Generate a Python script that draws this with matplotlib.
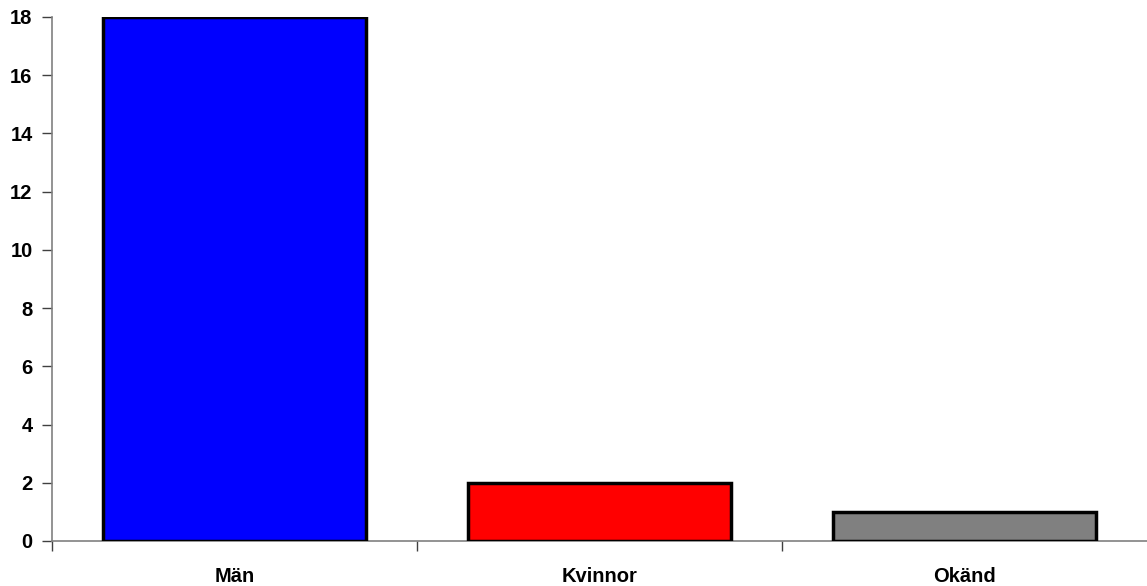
import matplotlib
matplotlib.use("Agg")
import matplotlib.pyplot as plt
from matplotlib.ticker import FixedLocator

categories = ["Män", "Kvinnor", "Okänd"]
values = [18, 2, 1]
colors = ["#0000FF", "#FF0000", "#808080"]
yticks = [0, 2, 4, 6, 8, 10, 12, 14, 16, 18]

plt.rcParams['font.family'] = ['Liberation Sans', 'DejaVu Sans']
fig = plt.figure(figsize=(11.47, 5.86), dpi=100)
ax = fig.add_axes([52/1147, 45/586, 1 - 52/1147, (541-17)/586])

x = list(range(len(categories)))
ax.bar(x, values, width=0.72, color=colors, edgecolor="black", linewidth=2.5, zorder=3)

ax.set_xlim(-0.5, len(categories) - 0.5)
ax.set_ylim(0, 18)
ax.set_yticks(yticks)
ax.set_yticklabels([str(v) for v in yticks], fontsize=14.5, fontweight="bold")

ax.set_xticks(x)
ax.set_xticklabels(categories, fontsize=14.5, fontweight="bold")
ax.tick_params(axis="x", which="major", length=0, pad=19)
ax.xaxis.set_minor_locator(FixedLocator([-0.5 + i for i in range(len(categories))]))
ax.tick_params(axis="x", which="minor", length=7, width=1, color="#404040", direction="out")
ax.tick_params(axis="y", length=7, width=1, color="#404040", pad=7)

for s in ["top", "right"]:
    ax.spines[s].set_visible(False)
for s in ["left", "bottom"]:
    ax.spines[s].set_color("#808080")
    ax.spines[s].set_linewidth(1.2)

fig.savefig("out.png", dpi=100)
